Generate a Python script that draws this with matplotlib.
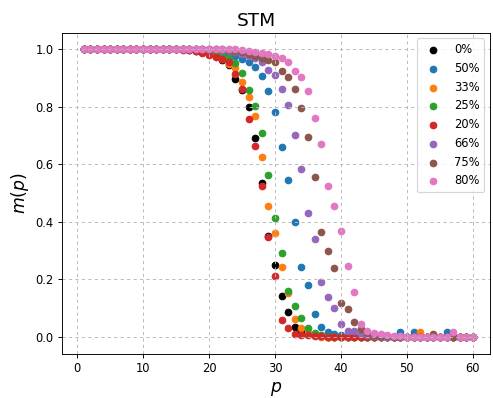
#!/usr/bin/env python3
"""Magnetisation m(p) for the STM model at several mixing fractions."""

import matplotlib

matplotlib.use("Agg")

import matplotlib.pyplot as plt
import numpy as np

P = np.arange(1, 61)

LABELS = ["0%", "50%", "33%", "25%", "20%", "66%", "75%", "80%"]

M_0 = [
    1.0, 1.0, 1.0, 1.0, 1.0, 1.0, 1.0, 1.0, 1.0, 1.0,
    1.0, 1.0, 1.0, 1.0, 1.0, 1.0, 0.998, 0.995, 0.99, 0.985,
    0.975, 0.963, 0.945, 0.898, 0.86, 0.80, 0.69, 0.534, 0.35, 0.249,
    0.143, 0.084, 0.033, 0.018, 0.008, 0.004, 0.002, 0.0, 0.0, 0.0,
    0.0, 0.0, 0.0, 0.0, 0.0, 0.0, 0.0, 0.0, 0.0, 0.0,
    0.0, 0.0, 0.0, 0.0, 0.0, 0.0, 0.0, 0.0, 0.0, 0.0,
]
M_50 = [
    1.0, 1.0, 1.0, 1.0, 1.0, 1.0, 1.0, 1.0, 1.0, 1.0,
    1.0, 1.0, 1.0, 1.0, 1.0, 1.0, 1.0, 1.0, 1.0, 0.997,
    0.993, 0.988, 0.982, 0.975, 0.965, 0.957, 0.937, 0.907, 0.856, 0.783,
    0.661, 0.545, 0.40, 0.241, 0.179, 0.079, 0.035, 0.017, 0.01, 0.005,
    0.003, 0.002, 0.0, 0.0, 0.0, 0.0, 0.0, 0.0, 0.015, 0.0,
    0.015, 0.0, 0.0, 0.0, 0.0, 0.015, 0.0, 0.0, 0.0, 0.0,
]
M_33 = [
    1.0, 1.0, 1.0, 1.0, 1.0, 1.0, 1.0, 1.0, 1.0, 1.0,
    1.0, 1.0, 1.0, 1.0, 1.0, 1.0, 1.0, 0.997, 0.993, 0.987,
    0.978, 0.965, 0.948, 0.934, 0.887, 0.833, 0.768, 0.624, 0.455, 0.362,
    0.241, 0.15, 0.06, 0.03, 0.012, 0.005, 0.0, 0.0, 0.0, 0.0,
    0.0, 0.0, 0.0, 0.0, 0.0, 0.0, 0.0, 0.0, 0.0, 0.0,
    0.0, 0.015, 0.0, 0.0, 0.0, 0.0, 0.0, 0.0, 0.0, 0.0,
]
M_25 = [
    1.0, 1.0, 1.0, 1.0, 1.0, 1.0, 1.0, 1.0, 1.0, 1.0,
    1.0, 1.0, 1.0, 1.0, 1.0, 1.0, 1.0, 1.0, 0.998, 0.995,
    0.99, 0.98, 0.97, 0.953, 0.916, 0.858, 0.803, 0.71, 0.563, 0.412,
    0.29, 0.159, 0.108, 0.065, 0.029, 0.012, 0.005, 0.0, 0.0, 0.0,
    0.0, 0.0, 0.0, 0.0, 0.0, 0.0, 0.0, 0.0, 0.0, 0.0,
    0.0, 0.0, 0.0, 0.0, 0.0, 0.0, 0.0, 0.0, 0.0, 0.0,
]
M_20 = [
    1.0, 1.0, 1.0, 1.0, 1.0, 1.0, 1.0, 1.0, 1.0, 1.0,
    1.0, 1.0, 1.0, 1.0, 1.0, 0.998, 0.997, 0.993, 0.988, 0.98,
    0.972, 0.965, 0.957, 0.913, 0.862, 0.757, 0.664, 0.524, 0.348, 0.211,
    0.058, 0.029, 0.008, 0.006, 0.004, 0.003, 0.002, 0.0, 0.0, 0.0,
    0.0, 0.0, 0.0, 0.0, 0.0, 0.0, 0.0, 0.0, 0.0, 0.0,
    0.0, 0.0, 0.0, 0.0, 0.0, 0.0, 0.0, 0.0, 0.0, 0.0,
]
M_66 = [
    1.0, 1.0, 1.0, 1.0, 1.0, 1.0, 1.0, 1.0, 1.0, 1.0,
    1.0, 1.0, 1.0, 1.0, 1.0, 1.0, 1.0, 1.0, 1.0, 1.0,
    1.0, 0.998, 0.995, 0.99, 0.985, 0.978, 0.968, 0.957, 0.928, 0.91,
    0.861, 0.806, 0.702, 0.582, 0.429, 0.339, 0.191, 0.139, 0.099, 0.044,
    0.021, 0.021, 0.01, 0.005, 0.002, 0.0, 0.0, 0.0, 0.0, 0.0,
    0.0, 0.0, 0.0, 0.0, 0.0, 0.0, 0.0, 0.0, 0.0, 0.0,
]
M_75 = [
    1.0, 1.0, 1.0, 1.0, 1.0, 1.0, 1.0, 1.0, 1.0, 1.0,
    1.0, 1.0, 1.0, 1.0, 1.0, 1.0, 1.0, 1.0, 1.0, 1.0,
    1.0, 1.0, 0.998, 0.995, 0.99, 0.985, 0.978, 0.97, 0.962, 0.955,
    0.926, 0.905, 0.861, 0.795, 0.694, 0.557, 0.365, 0.298, 0.238, 0.116,
    0.095, 0.052, 0.026, 0.012, 0.006, 0.003, 0.002, 0.0, 0.0, 0.0,
    0.0, 0.0, 0.0, 0.01, 0.0, 0.0, 0.0, 0.0, 0.0, 0.0,
]
M_80 = [
    1.0, 1.0, 1.0, 1.0, 1.0, 1.0, 1.0, 1.0, 1.0, 1.0,
    1.0, 1.0, 1.0, 1.0, 1.0, 1.0, 1.0, 1.0, 1.0, 1.0,
    1.0, 1.0, 1.0, 1.0, 0.998, 0.995, 0.992, 0.988, 0.983, 0.978,
    0.97, 0.955, 0.926, 0.905, 0.856, 0.76, 0.67, 0.524, 0.456, 0.368,
    0.247, 0.154, 0.044, 0.02, 0.012, 0.008, 0.005, 0.003, 0.002, 0.0,
    0.0, 0.0, 0.0, 0.0, 0.0, 0.0, 0.017, 0.0, 0.0, 0.0,
]

SERIES = [M_0, M_50, M_33, M_25, M_20, M_66, M_75, M_80]
COLORS = ["black", "C0", "C1", "C2", "C3", "C4", "C5", "C6"]


def main() -> None:
    dpi = 83
    fig, ax = plt.subplots(figsize=(493 / dpi, 398 / dpi), dpi=dpi)
    for values, color, label in zip(SERIES, COLORS, LABELS):
        ax.scatter(P, values, s=32, color=color, label=label)
    # title sits a bit left of the axes centre in the original
    ax.set_title("STM", fontsize=16, x=0.455)
    ax.set_xlabel("$p$", fontsize=15)
    ax.set_ylabel("$m(p)$", fontsize=15)
    ax.set_xlim(-2.35, 62.6)
    ax.set_ylim(-0.06, 1.058)
    ax.grid(linestyle=(0, (3.5, 3.5)), color="#b8b8b8", linewidth=0.8)
    ax.legend(loc="upper right")
    fig.subplots_adjust(left=0.125, right=0.994, bottom=0.111, top=0.918)
    fig.savefig("out.png", dpi=dpi)
    plt.close(fig)


if __name__ == "__main__":
    main()
